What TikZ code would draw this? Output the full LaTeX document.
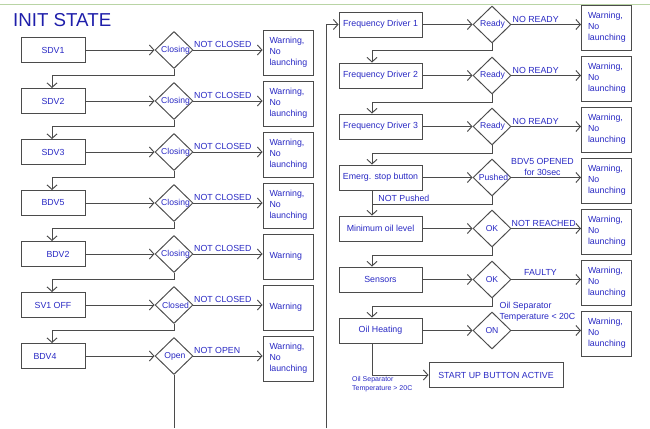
\documentclass[tikz,border=0pt]{standalone}
\usepackage{fontspec}
\setmainfont{Liberation Sans}
\usetikzlibrary{shapes.geometric,arrows.meta}
\definecolor{txtblue}{RGB}{40,40,195}
\definecolor{titleblue}{RGB}{30,30,170}
\definecolor{linegray}{RGB}{75,75,75}
\definecolor{topgreen}{RGB}{185,212,165}
\begin{document}
\begin{tikzpicture}[x=1pt,y=-1pt,
  every node/.style={font=\fontsize{8.8}{11}\selectfont, text=txtblue},
  conn/.style={draw=linegray, line width=0.95pt},
  arr/.style={conn, -{Straight Barb[length=4.5pt,width=10pt]}},
  lbox/.style={draw=linegray, line width=0.95pt, minimum width=64pt, minimum height=25pt, inner sep=0pt},
  rbox/.style={draw=linegray, line width=0.95pt, minimum width=83pt, minimum height=25pt, inner sep=0pt},
  dia/.style={diamond, draw=linegray, line width=0.95pt, minimum width=38pt, minimum height=37pt, inner sep=0pt},
  dlab/.style={font=\fontsize{8.6}{10}\selectfont, inner sep=0pt, text=txtblue},
  warnbox/.style={draw=linegray, line width=0.95pt, minimum width=50pt, minimum height=45pt, text width=37pt, align=left, inner sep=0pt},
  elab/.style={inner sep=0pt},
  smalllab/.style={font=\fontsize{7}{9}\selectfont, inner sep=0pt, align=left},
]
\useasboundingbox (0,0) rectangle (650,428);
\draw[topgreen, line width=1pt] (0,5) -- (650,5);
\node[font=\fontsize{18.7}{20}\selectfont, text=titleblue, anchor=west, inner sep=0pt] (title) at (13,20) {INIT STATE};

% ---------- left column ----------
\node[lbox] (lb0) at (53,50) {SDV1};
\node[lbox] (lb1) at (53,101) {SDV2};
\node[lbox] (lb2) at (53,152) {SDV3};
\node[lbox] (lb3) at (53,203) {BDV5};
\node[lbox] (lb4) at (53,254) {};
\node[inner sep=0pt] (lt4) at ([xshift=5pt]lb4.center) {BDV2};
\node[lbox] (lb5) at (53,305) {SV1 OFF};
\node[lbox] (lb6) at (53,356) {};
\node[inner sep=0pt] (lt6) at ([xshift=-8pt]lb6.center) {BDV4};

\node[dia, label={[dlab,xshift=1.5pt]center:Closing}] (ld0) at (174,50) {};
\node[dia, label={[dlab,xshift=1.5pt]center:Closing}] (ld1) at (174,101) {};
\node[dia, label={[dlab,xshift=1.5pt]center:Closing}] (ld2) at (174,152) {};
\node[dia, label={[dlab,xshift=1.5pt]center:Closing}] (ld3) at (174,203) {};
\node[dia, label={[dlab,xshift=1.5pt]center:Closing}] (ld4) at (174,254) {};
\node[dia, label={[dlab,xshift=1.5pt]center:Closed}] (ld5) at (174,305) {};
\node[dia, label={[dlab,xshift=1pt]center:Open}] (ld6) at (174,356) {};

\node[warnbox] (lw0) at (288,52.5) {Warning,\\No\\launching};
\node[warnbox] (lw1) at (288,103.5) {Warning,\\No\\launching};
\node[warnbox] (lw2) at (288,154.5) {Warning,\\No\\launching};
\node[warnbox] (lw3) at (288,205.5) {Warning,\\No\\launching};
\node[warnbox] (lw4) at (288,256.5) {Warning};
\node[warnbox] (lw5) at (288,307.5) {Warning};
\node[warnbox] (lw6) at (288,358.5) {Warning,\\No\\launching};

\foreach \i in {0,...,6}{
  \draw[arr] (lb\i.east) -- (ld\i.west);
  \draw[arr] (ld\i.east) -- (ld\i.east -| lw\i.west);
}
\foreach \i in {0,...,5}{
  \node[elab, anchor=west] at ([xshift=0.5pt,yshift=6pt]ld\i.east) {NOT CLOSED};
}
\node[elab, anchor=west] at ([xshift=0.5pt,yshift=6pt]ld6.east) {NOT OPEN};

\foreach \i/\j in {0/1,1/2,2/3,3/4,4/5,5/6}{
  \draw[arr] (ld\i.south) -- ++(0,6.5) -| ([xshift=-1pt]lb\j.north);
}
\coordinate (openbot) at (174,428);
\draw[conn] (ld6.south) -- (openbot);

% ---------- right column ----------
\node[rbox] (rb0) at (380.5,24.5) {Frequency Driver 1};
\node[rbox] (rb1) at (380.5,75.5) {Frequency Driver 2};
\node[rbox] (rb2) at (380.5,126.5) {Frequency Driver 3};
\node[rbox] (rb3) at (380.5,177.5) {Emerg. stop button};
\node[rbox] (rb4) at (380.5,228.5) {Minimum oil level};
\node[rbox] (rb5) at (380.5,279.5) {Sensors};
\node[rbox] (rb6) at (380.5,330.5) {Oil Heating};

\node[dia, label={[dlab,xshift=0.5pt]center:Ready}] (rd0) at (492,24.5) {};
\node[dia, label={[dlab,xshift=0.5pt]center:Ready}] (rd1) at (492,75.5) {};
\node[dia, label={[dlab,xshift=0.5pt]center:Ready}] (rd2) at (492,126.5) {};
\node[dia, label={[dlab,xshift=1.5pt]center:Pushed}] (rd3) at (492,177.5) {};
\node[dia, label={[dlab]center:OK}] (rd4) at (492,228.5) {};
\node[dia, label={[dlab]center:OK}] (rd5) at (492,279.5) {};
\node[dia, label={[dlab]center:ON}] (rd6) at (492,330.5) {};

\node[warnbox] (rw0) at (606.5,27.5) {Warning,\\No\\launching};
\node[warnbox] (rw1) at (606.5,78.5) {Warning,\\No\\launching};
\node[warnbox] (rw2) at (606.5,129.5) {Warning,\\No\\launching};
\node[warnbox] (rw3) at (606.5,180.5) {Warning,\\No\\launching};
\node[warnbox] (rw4) at (606.5,231.5) {Warning,\\No\\launching};
\node[warnbox] (rw5) at (606.5,282.5) {Warning,\\No\\launching};
\node[warnbox] (rw6) at (606.5,333.5) {Warning,\\No\\launching};

\foreach \i in {0,...,6}{
  \draw[arr] (rb\i.east) -- (rd\i.west);
  \draw[arr] (rd\i.east) -- (rd\i.east -| rw\i.west);
}
\node[elab, anchor=west] at ([xshift=1pt,yshift=5.5pt]rd0.east) {NO READY};
\node[elab, anchor=west] at ([xshift=1pt,yshift=5.5pt]rd1.east) {NO READY};
\node[elab, anchor=west] at ([xshift=1pt,yshift=5.5pt]rd2.east) {NO READY};
\node[elab, align=center] at ([xshift=31pt,yshift=11pt]rd3.east) {BDV5 OPENED\\for 30sec};
\node[elab, anchor=west] at ([xshift=0pt,yshift=5.5pt]rd4.east) {NOT REACHED};
\node[elab] at ([xshift=29pt,yshift=6.5pt]rd5.east) {FAULTY};
\node[elab, anchor=west, align=left] at ([xshift=-12pt,yshift=18.5pt]rd6.east) {Oil Separator\\Temperature < 20C};

% drops between right rows
\foreach \i/\j in {0/1,1/2,2/3,4/5,5/6}{
  \draw[arr] (rd\i.south) -- ++(0,7.5) -| ([xshift=-8.5pt]rb\j.north);
}
\coordinate (c4) at ([xshift=-8.5pt]rb4.north);
\draw[arr] ([xshift=-8.5pt]rb3.south) -- (c4);
\draw[conn] (rd3.south) -- ++(0,7.5) coordinate (j3) -- (j3 -| c4)
  node[elab, pos=1, anchor=west, xshift=6pt, yshift=6pt] {NOT Pushed};

% loop feeding Frequency Driver 1
\coordinate (loopbot) at (326,428);
\draw[arr] (loopbot) |- (rb0.west);

% start up
\node[draw=linegray, line width=0.95pt, minimum width=134pt, minimum height=25pt, inner sep=0pt] (sb) at (496,375) {START UP BUTTON ACTIVE};
\draw[arr] ([xshift=-8.5pt]rb6.south) |- (sb.west);
\node[smalllab, anchor=west] at (352,384.5) {Oil Separator\\Temperature > 20C};
\end{tikzpicture}
\end{document}
